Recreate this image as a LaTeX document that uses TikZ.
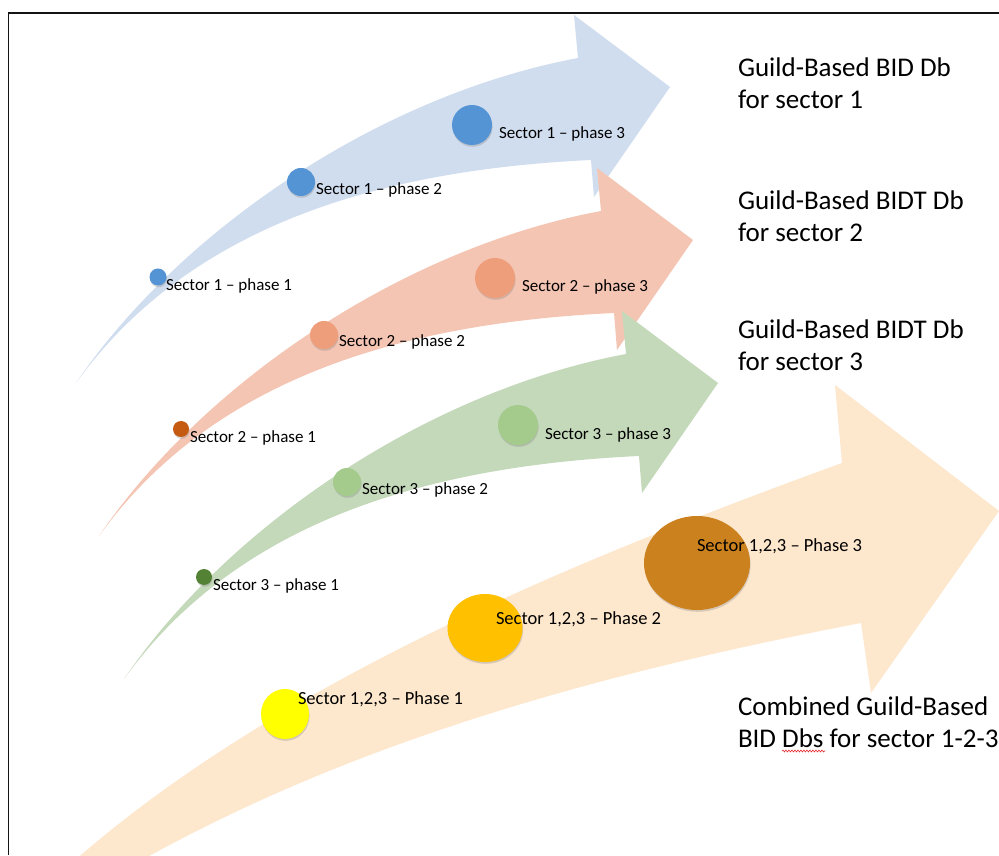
\documentclass[tikz,border=0pt]{standalone}
\usepackage{fontspec}
\setmainfont{Carlito}
\usetikzlibrary{shapes.geometric,shadows,decorations.pathmorphing}

\begin{document}
\begin{tikzpicture}[x=1pt,y=1pt,
  phasedot/.style={inner sep=0pt,outer sep=0pt,draw=none,
    drop shadow={shadow xshift=0.6pt,shadow yshift=-1.8pt,opacity=0.30}},
  phaselabel/.style={text=black,anchor=base west,inner sep=0pt,outer sep=0pt,
    font=\fontsize{17}{20}\selectfont},
  comblabel/.style={phaselabel,font=\fontsize{18.5}{22}\selectfont},
  dblabel/.style={text=black,anchor=base west,align=left,inner sep=0pt,outer sep=0pt,
    font=\fontsize{27}{32}\selectfont}]
\definecolor{fillColor}{RGB}{255,255,255}
\path[use as bounding box,fill=fillColor] (0,0) rectangle (999.00,855.00);
\begin{scope}
\path[clip] (  0.00,  0.00) rectangle (999.00,855.00);
\definecolor{fillColor}{RGB}{208,221,239}

\path[fill=fillColor] ( 76.00,472.00) .. controls (180.00,625.00) and (380.00,760.00) .. (578.00,797.00) --
	(574.00,840.00) --
	(670.00,768.00) --
	(594.00,658.00) --
	(591.00,695.00) .. controls (380.00,685.00) and (190.00,630.00) .. ( 76.00,472.00) -- cycle;
\definecolor{fillColor}{RGB}{245,197,179}

\path[fill=fillColor] ( 99.00,319.00) .. controls (203.00,472.00) and (403.00,607.00) .. (601.00,644.00) --
	(597.00,687.00) --
	(693.00,615.00) --
	(617.00,505.00) --
	(614.00,542.00) .. controls (403.00,532.00) and (213.00,477.00) .. ( 99.00,319.00) -- cycle;
\definecolor{fillColor}{RGB}{196,216,186}

\path[fill=fillColor] (124.00,176.00) .. controls (228.00,329.00) and (428.00,464.00) .. (626.00,501.00) --
	(622.00,544.00) --
	(718.00,472.00) --
	(642.00,362.00) --
	(639.00,399.00) .. controls (428.00,389.00) and (238.00,334.00) .. (124.00,176.00) -- cycle;
\definecolor{fillColor}{RGB}{253,231,205}

\path[fill=fillColor] ( 81.00,  0.00) .. controls (290.00,180.00) and (592.00,301.00) .. (842.00,392.00) --
	(835.00,470.00) --
	(999.00,344.00) --
	(871.00,162.00) --
	(861.00,232.00) .. controls (616.00,185.00) and (370.00,120.00) .. (151.00,  0.00) --
	(106.00,-25.00) --
	( 47.00,-25.00) -- cycle;
\end{scope}
\begin{scope}
\definecolor{fillColor}{RGB}{84,148,212}

\node[phasedot,circle,fill=fillColor,minimum size=17pt] (s1p1) at (158.00,578.00) {};

\node[phasedot,circle,fill=fillColor,minimum size=28pt] (s1p2) at (301.00,673.00) {};

\node[phasedot,circle,fill=fillColor,minimum size=40pt] (s1p3) at (472.00,730.00) {};
\definecolor{fillColor}{RGB}{197,90,17}

\node[phasedot,circle,fill=fillColor,minimum size=16pt] (s2p1) at (181.00,426.00) {};
\definecolor{fillColor}{RGB}{238,158,122}

\node[phasedot,circle,fill=fillColor,minimum size=28pt] (s2p2) at (324.00,520.00) {};

\node[phasedot,circle,fill=fillColor,minimum size=40pt] (s2p3) at (495.00,577.00) {};
\definecolor{fillColor}{RGB}{84,130,53}

\node[phasedot,circle,fill=fillColor,minimum size=16pt] (s3p1) at (204.00,278.00) {};
\definecolor{fillColor}{RGB}{164,203,140}

\node[phasedot,circle,fill=fillColor,minimum size=28pt] (s3p2) at (347.00,373.00) {};

\node[phasedot,circle,fill=fillColor,minimum size=40pt] (s3p3) at (518.00,430.00) {};
\definecolor{fillColor}{RGB}{255,255,0}

\node[phasedot,ellipse,fill=fillColor,minimum width=48pt,minimum height=50pt] (allp1) at (285.00,141.00) {};
\definecolor{fillColor}{RGB}{255,192,0}

\node[phasedot,ellipse,fill=fillColor,minimum width=75pt,minimum height=68pt] (allp2) at (485.00,227.00) {};
\definecolor{fillColor}{RGB}{204,129,31}

\node[phasedot,ellipse,fill=fillColor,minimum width=106pt,minimum height=94pt] (allp3) at (697.00,292.00) {};
\end{scope}
\begin{scope}

\node[phaselabel] (s1p1txt) at (166.00,564.00) {Sector 1 – phase 1};

\node[phaselabel] (s1p2txt) at (316.00,660.00) {Sector 1 – phase 2};

\node[phaselabel] (s1p3txt) at (499.00,716.00) {Sector 1 – phase 3};

\node[phaselabel] (s2p1txt) at (190.00,412.00) {Sector 2 – phase 1};

\node[phaselabel] (s2p2txt) at (339.00,508.00) {Sector 2 – phase 2};

\node[phaselabel] (s2p3txt) at (522.00,563.00) {Sector 2 – phase 3};

\node[phaselabel] (s3p1txt) at (213.00,264.00) {Sector 3 – phase 1};

\node[phaselabel] (s3p2txt) at (362.00,360.00) {Sector 3 – phase 2};

\node[phaselabel] (s3p3txt) at (545.00,415.00) {Sector 3 – phase 3};

\node[comblabel] (allp1txt) at (298.00,151.00) {Sector 1,2,3 – Phase 1};

\node[comblabel] (allp2txt) at (496.00,230.00) {Sector 1,2,3 – Phase 2};

\node[comblabel] (allp3txt) at (697.00,303.00) {Sector 1,2,3 – Phase 3};

\node[dblabel] (db1) at (738.00,746.00) {Guild-Based BID Db\\for sector 1};

\node[dblabel] (db2) at (738.00,613.00) {Guild-Based BIDT Db\\for sector 2};

\node[dblabel] (db3) at (738.00,484.00) {Guild-Based BIDT Db\\for sector 3};

\node[dblabel] (dball) at (738.00,108.00) {Combined Guild-Based\\BID Dbs for sector 1-2-3};
\definecolor{drawColor}{RGB}{230,40,40}

\path[draw=drawColor,line width= 0.6pt,decorate,decoration={snake,amplitude=0.9pt,segment length=3pt}] (782.00,104.00) -- (825.00,104.00);
\definecolor{drawColor}{RGB}{20,20,20}

\path[draw=drawColor,line width= 1.4pt] (  8.50,  0.00) --
	(  8.50,842.00) --
	(999.00,842.00);
\end{scope}
\end{tikzpicture}
\end{document}
